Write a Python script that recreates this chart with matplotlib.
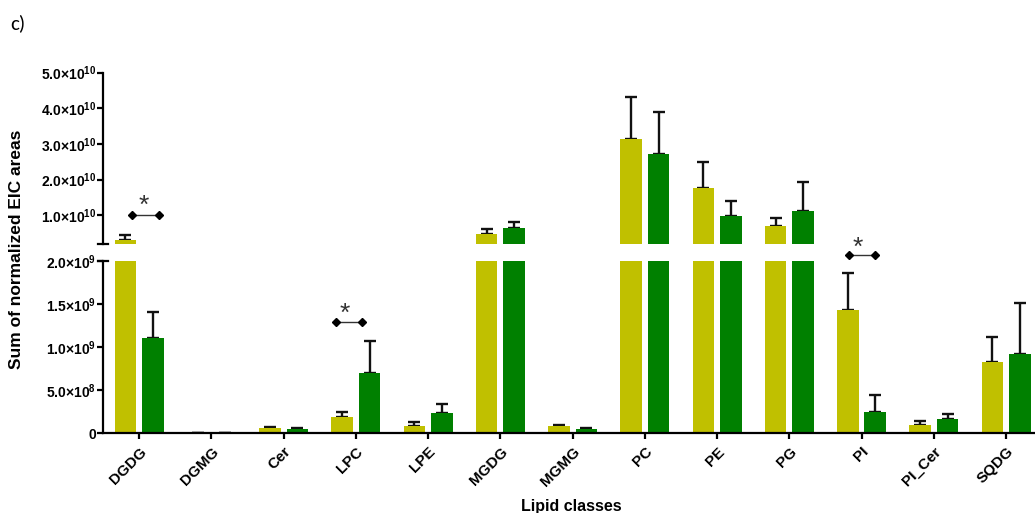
import numpy as np
import matplotlib.pyplot as plt

plt.rcParams['font.family'] = ['Liberation Sans', 'DejaVu Sans']
plt.rcParams['mathtext.default'] = 'regular'

# data
classes = ["DGDG", "DGMG", "Cer", "LPC", "LPE", "MGDG", "MGMG",
           "PC", "PE", "PG", "PI", "PI_Cer", "SQDG"]
mean_a = [3.2e9, 2e6, 5.8e7, 1.85e8, 8.8e7, 4.86e9, 8.8e7,
          3.15e10, 1.75e10, 7.0e9, 1.43e9, 9.6e7, 8.3e8]
err_a = [1.2e9, 1e6, 1.8e7, 6.5e7, 3.9e7, 1.4e9, 0.8e7,
         1.17e10, 0.73e10, 2.1e9, 4.3e8, 4.7e7, 2.9e8]
mean_b = [1.10e9, 2e6, 4.6e7, 6.95e8, 2.4e8, 6.4e9, 5.0e7,
          2.71e10, 0.98e10, 1.11e10, 2.5e8, 1.66e8, 9.15e8]
err_b = [3.1e8, 1e6, 1.4e7, 3.75e8, 9.6e7, 1.7e9, 0.8e7,
         1.19e10, 0.41e10, 0.81e10, 1.97e8, 5.4e7, 5.95e8]

upper_ticks = [1e10, 2e10, 3e10, 4e10, 5e10]
upper_labels = ["1.0×10$^{10}$", "2.0×10$^{10}$", "3.0×10$^{10}$", "4.0×10$^{10}$", "5.0×10$^{10}$"]
lower_ticks = [0, 5e8, 1e9, 1.5e9, 2e9]
lower_labels = ["0", "5.0×10$^{8}$", "1.0×10$^{9}$", "1.5×10$^{9}$", "2.0×10$^{9}$"]

# significance brackets: (x left, x right, x star, axis, y line, y star)
sig = [(-0.10, 0.27, 0.07, "up", 1.0e10, 1.25e10),
       (2.73, 3.09, 2.85, "low", 1.29e9, 1.38e9),
       (9.82, 10.18, 9.94, "low", 2.07e9, 2.15e9)]

col_a = "#c0c000"
col_b = "#008000"
split = 2e9

W, H = 1035, 513
fig = plt.figure(figsize=(W / 100, H / 100), dpi=100)
left = 103 / W
width = (W - 103) / W
ax_low = fig.add_axes([left, (H - 433.3) / H, width, 172.6 / H])
ax_up = fig.add_axes([left, (H - 243.8) / H, width, 171.3 / H])

x = np.arange(len(classes))
bw = 0.30
off = 0.19

for ax in (ax_low, ax_up):
    ax.set_facecolor("none")
    ax.bar(x - off, mean_a, bw, color=col_a, zorder=2)
    ax.bar(x + off, mean_b, bw, color=col_b, zorder=2)
    for xs, m, e in ((x - off, mean_a, err_a), (x + off, mean_b, err_b)):
        tops = np.array(m) + np.array(e)
        keep = tops <= split if ax is ax_low else tops > split
        ax.errorbar(xs[keep], np.array(m)[keep],
                    yerr=[np.zeros(keep.sum()), np.array(e)[keep]], fmt='none',
                    ecolor="#111111", elinewidth=1.7, capsize=4, capthick=1.7, zorder=1)
    ax.set_xlim(-0.5, 12.4)
    for s in ("top", "right"):
        ax.spines[s].set_visible(False)
    ax.spines["left"].set_linewidth(1.6)
    ax.tick_params(axis="y", direction="out", length=4, width=1.6, pad=1)

ax_low.set_ylim(0, split)
ax_low.set_yticks(lower_ticks)
ax_low.set_yticklabels(lower_labels, fontweight="bold", fontsize=10)
ax_low.spines["bottom"].set_linewidth(1.6)
ax_low.set_xticks(x)
ax_low.set_xticklabels(classes, rotation=45, ha="right", va="top",
                       rotation_mode="anchor", fontweight="bold", fontsize=11)
ax_low.tick_params(axis="x", direction="out", length=4, width=1.6, pad=4)

ax_up.set_ylim(split, 5e10)
ax_up.set_yticks(upper_ticks)
ax_up.set_yticklabels(upper_labels, fontweight="bold", fontsize=10)
ax_up.spines["bottom"].set_visible(False)
ax_up.set_xticks([])

# break marks
ax_up.plot([-0.005, 0.005], [0, 0], transform=ax_up.transAxes, color="black",
           lw=1.6, clip_on=False)
ax_low.plot([-0.005, 0.005], [1, 1], transform=ax_low.transAxes, color="black",
            lw=1.6, clip_on=False)

# significance
for x0, x1, xs, which, yl, ys in sig:
    ax = ax_up if which == "up" else ax_low
    ax.plot([x0, x1], [yl, yl], color="#333333", lw=1, marker="D", ms=4,
            markerfacecolor="black", markeredgecolor="black", clip_on=False, zorder=4)
    ax.text(xs, ys, "*", ha="center", va="center", fontsize=19, color="#333333",
            clip_on=False)

fig.text(17 / W, (H - 249) / H, "Sum of normalized EIC areas", rotation=90,
         ha="center", va="center", fontweight="bold", fontsize=12.5)
fig.text(571 / W, (H - 506) / H, "Lipid classes", ha="center", va="center",
         fontweight="bold", fontsize=11.5)
fig.text(10 / W, (H - 23) / H, "c)", ha="left", va="center", fontsize=15,
         family=["Carlito", "Liberation Sans", "DejaVu Sans"])

fig.savefig("out.png", dpi=100)
